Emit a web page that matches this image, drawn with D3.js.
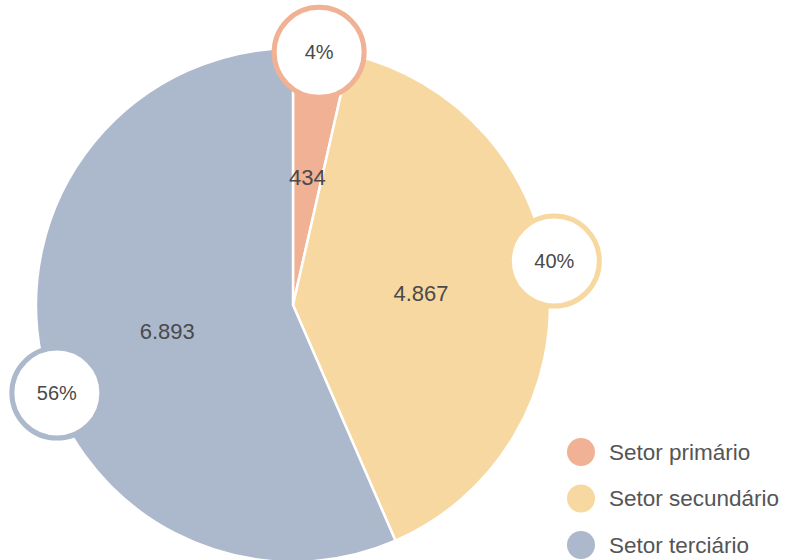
<!DOCTYPE html>
<html>
<head>
<meta charset="utf-8">
<script src="https://cdn.jsdelivr.net/npm/d3@7"></script>
<style>
  html, body { margin: 0; padding: 0; background: #fff; }
  svg { display: block; font-family: "Liberation Sans", Arial, sans-serif; }
</style>
</head>
<body>
<svg id="chart"></svg>
<script>
// data
const sectors = ["Setor primário", "Setor secundário", "Setor terciário"];
const values = [434, 4867, 6893];
const valueLabels = ["434", "4.867", "6.893"];
const percentLabels = ["4%", "40%", "56%"];
const colors = ["#F0B195", "#F8D8A1", "#ACB8CB"];

const width = 786, height = 560;
const cx = 293, cy = 305, radius = 257;
// badge placement tweaks (degrees off the slice mid angle, distance from centre)
const badgeNudge = [-0.5, -4.2, -8.7];
const badgeDist = [254, 265, 252];

const svg = d3.select("#chart")
    .attr("width", width)
    .attr("height", height)
    .attr("viewBox", [0, 0, width, height]);

const pie = d3.pie().sort(null).value(d => d.value);
const arcs = pie(sectors.map((s, i) => ({name: s, value: values[i], i: i})));

const arc = d3.arc().innerRadius(0).outerRadius(radius);
const color = d3.scaleOrdinal().domain(sectors).range(colors);

const g = svg.append("g").attr("transform", `translate(${cx},${cy})`);

g.append("g")
    .selectAll("path")
    .data(arcs)
    .join("path")
    .attr("d", arc)
    .attr("fill", d => color(d.data.name))
    .attr("stroke", "#fff")
    .attr("stroke-width", 2.5)
    .attr("stroke-linejoin", "round");

g.append("g")
    .attr("fill", "#4a4a4a")
    .attr("text-anchor", "middle")
    .style("font-size", "22px")
    .selectAll("text")
    .data(arcs)
    .join("text")
    .attr("transform", d => `translate(${arc.centroid(d)})`)
    .attr("dy", "0.35em")
    .text(d => valueLabels[d.data.i]);

// percentage badges on the rim
const badgePos = d => {
    const a = (d.startAngle + d.endAngle) / 2 + badgeNudge[d.data.i] * Math.PI / 180;
    const r = badgeDist[d.data.i];
    return [r * Math.sin(a), -r * Math.cos(a)];
};

const badge = g.append("g")
    .selectAll("g")
    .data(arcs)
    .join("g")
    .attr("transform", d => `translate(${badgePos(d)})`);

badge.append("circle")
    .attr("r", 45)
    .attr("fill", "#fff")
    .attr("stroke", d => color(d.data.name))
    .attr("stroke-width", 5);

badge.append("text")
    .attr("text-anchor", "middle")
    .attr("dy", "0.35em")
    .attr("fill", "#4a4a4a")
    .style("font-size", "20px")
    .text(d => percentLabels[d.data.i]);

// legend
const ly = d3.scalePoint().domain(sectors).range([452, 545]);
const legend = svg.append("g")
    .selectAll("g")
    .data(sectors)
    .join("g")
    .attr("transform", d => `translate(581,${ly(d)})`);

legend.append("circle")
    .attr("r", 14)
    .attr("fill", d => color(d));

legend.append("text")
    .attr("x", 28)
    .attr("dy", "0.35em")
    .attr("fill", "#555")
    .style("font-size", "22.5px")
    .text(d => d);
</script>
</body>
</html>
